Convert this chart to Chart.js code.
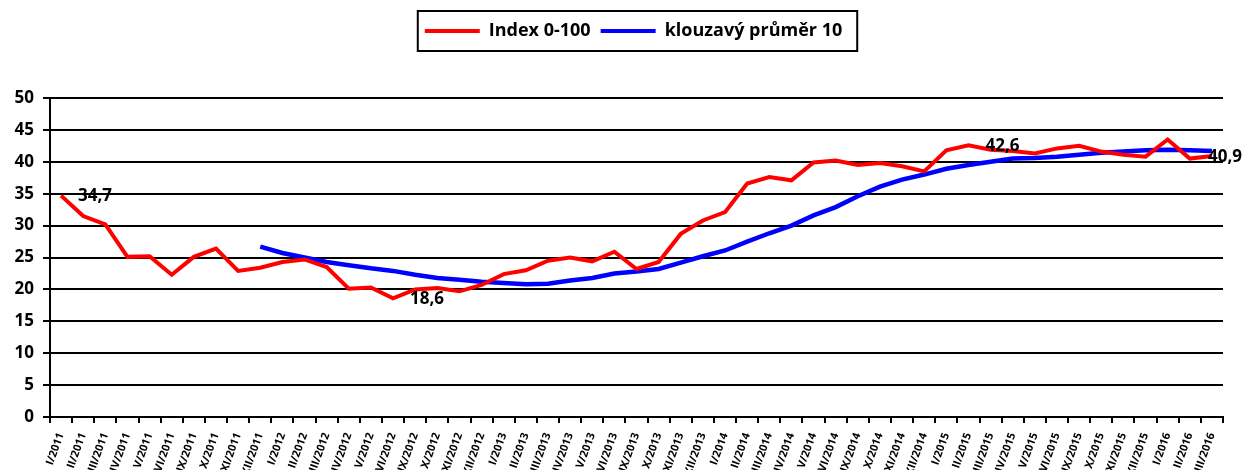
<!DOCTYPE html>
<html>
<head>
<meta charset="utf-8">
<script src="https://cdn.jsdelivr.net/npm/chart.js@4.4.0/dist/chart.umd.min.js"></script>
<style>
  html, body { margin: 0; padding: 0; background: #fff; overflow: hidden; }
  #wrap { width: 1243px; height: 470px; }
</style>
</head>
<body>
<div id="wrap"><canvas id="chart" width="1243" height="470"></canvas></div>
<script>
// Categories: months (no VII and VIII) from I/2011 to III/2016
const months = [
  'I/2011', 'II/2011', 'III/2011', 'IV/2011', 'V/2011', 'VI/2011', 'IX/2011', 'X/2011', 'XI/2011', 'XII/2011',
  'I/2012', 'II/2012', 'III/2012', 'IV/2012', 'V/2012', 'VI/2012', 'IX/2012', 'X/2012', 'XI/2012', 'XII/2012',
  'I/2013', 'II/2013', 'III/2013', 'IV/2013', 'V/2013', 'VI/2013', 'IX/2013', 'X/2013', 'XI/2013', 'XII/2013',
  'I/2014', 'II/2014', 'III/2014', 'IV/2014', 'V/2014', 'VI/2014', 'IX/2014', 'X/2014', 'XI/2014', 'XII/2014',
  'I/2015', 'II/2015', 'III/2015', 'IV/2015', 'V/2015', 'VI/2015', 'IX/2015', 'X/2015', 'XI/2015', 'XII/2015',
  'I/2016', 'II/2016', 'III/2016'
];

// Index 0-100
const indexValues = [
  34.7, 31.5, 30.2, 25.1, 25.2, 22.3, 25.1, 26.4, 22.9, 23.4,
  24.3, 24.7, 23.5, 20.1, 20.3, 18.6, 20.0, 20.2, 19.7, 20.7,
  22.4, 23.0, 24.5, 25.0, 24.4, 25.9, 23.2, 24.3, 28.7, 30.8,
  32.1, 36.6, 37.6, 37.1, 39.9, 40.2, 39.5, 39.8, 39.3, 38.5,
  41.8, 42.6, 41.9, 41.7, 41.3, 42.1, 42.5, 41.6, 41.1, 40.8,
  43.5, 40.5, 40.9
];

// klouzavý průměr 10 (starts at the 10th month)
const movingAvg = [
  null, null, null, null, null, null, null, null, null, 26.7,
  25.7, 25.0, 24.3, 23.8, 23.3, 22.9, 22.3, 21.8, 21.5, 21.2,
  21.0, 20.8, 20.9, 21.4, 21.8, 22.5, 22.8, 23.2, 24.2, 25.2,
  26.1, 27.5, 28.8, 30.0, 31.6, 32.9, 34.6, 36.1, 37.2, 38.0,
  38.9, 39.5, 40.0, 40.5, 40.6, 40.8, 41.1, 41.4, 41.6, 41.8,
  41.9, 41.8, 41.7
];

// points of the index series that carry a value label
const labelledPoints = [0, 15, 41, 52];

const FONT = '"Open Sans", Lato, sans-serif';

// value labels placed right of the point (Excel style)
const valueLabels = {
  id: 'valueLabels',
  afterDatasetsDraw(chart) {
    const ctx = chart.ctx;
    const meta = chart.getDatasetMeta(0);
    ctx.save();
    ctx.font = 'bold 17px ' + FONT;
    ctx.fillStyle = '#000';
    ctx.textBaseline = 'middle';
    ctx.textAlign = 'left';
    labelledPoints.forEach(i => {
      const pt = meta.data[i];
      const txt = String(indexValues[i]).replace('.', ',');
      const w = ctx.measureText(txt).width;
      let x = pt.x + 17;
      if (x + w > chart.width - 1) x = chart.width - 1 - w;
      ctx.fillText(txt, x, pt.y + 1);
    });
    ctx.restore();
  }
};

// legend: taller block, nudged right, with a border
const legendBox = {
  id: 'legendBox',
  beforeInit(chart) {
    const fit = chart.legend.fit;
    chart.legend.fit = function () {
      fit.bind(chart.legend)();
      this.height = 86;
    };
  },
  afterLayout(chart) {
    chart.legend.left += 22;
    chart.legend.right += 22;
  },
  afterDraw(chart) {
    const hb = chart.legend.legendHitBoxes;
    if (!hb || !hb.length) return;
    const last = hb[hb.length - 1];
    const left = hb[0].left - 7;
    const right = last.left + last.width + 15;
    const cy = hb[0].top + hb[0].height / 2;
    const ctx = chart.ctx;
    ctx.save();
    ctx.strokeStyle = '#000';
    ctx.lineWidth = 2;
    ctx.strokeRect(left, cy - 20, right - left, 40);
    ctx.restore();
  }
};

const ctx = document.getElementById('chart').getContext('2d');
const chart = new Chart(ctx, {
  type: 'line',
  data: {
    labels: months,
    datasets: [
      {
        label: 'Index 0-100',
        data: indexValues,
        borderColor: '#ff0000',
        backgroundColor: '#ff0000',
        borderWidth: 4,
        pointRadius: 0,
        tension: 0
      },
      {
        label: 'klouzavý průměr 10',
        data: movingAvg,
        borderColor: '#0000ff',
        backgroundColor: '#0000ff',
        borderWidth: 4.5,
        pointRadius: 0,
        tension: 0
      }
    ]
  },
  options: {
    responsive: false,
    devicePixelRatio: 1,
    animation: false,
    layout: { padding: { top: 12, right: 20, left: 0, bottom: 0 } },
    plugins: {
      tooltip: { enabled: false },
      legend: {
        position: 'top',
        labels: {
          color: '#000',
          font: { family: FONT, size: 18, weight: 'bold' },
          boxWidth: 55,
          boxHeight: 4,
          padding: 10,
          generateLabels(chart) {
            return Chart.defaults.plugins.legend.labels.generateLabels(chart).map(l => {
              l.lineWidth = 0;
              l.fillStyle = l.strokeStyle;
              return l;
            });
          }
        }
      }
    },
    scales: {
      x: {
        type: 'category',
        offset: true,
        grid: {
          offset: true,
          drawOnChartArea: false,
          color: '#000',
          lineWidth: 2,
          tickLength: 6
        },
        border: { color: '#000', width: 2 },
        ticks: {
          autoSkip: false,
          maxRotation: 70,
          minRotation: 70,
          color: '#000',
          padding: 8,
          font: { family: FONT, size: 11, weight: 'bold' }
        },
        afterFit(scale) { scale.height = 53; }
      },
      y: {
        min: 0,
        max: 50,
        grid: { color: '#000', lineWidth: 2, tickLength: 7 },
        border: { color: '#000', width: 2 },
        ticks: {
          stepSize: 5,
          color: '#000',
          padding: 9,
          font: { family: FONT, size: 17, weight: 'bold' }
        },
        afterFit(scale) { scale.width = 50; }
      }
    }
  },
  plugins: [valueLabels, legendBox]
});
</script>
</body>
</html>
